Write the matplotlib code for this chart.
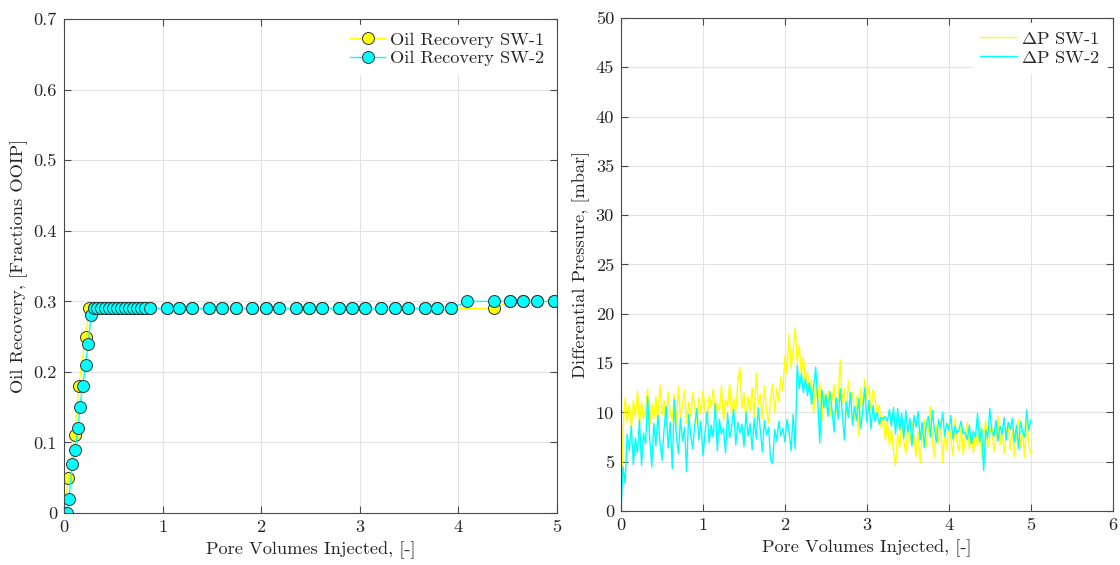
import numpy as np
import matplotlib
matplotlib.use("Agg")
import matplotlib.pyplot as plt

plt.rcParams['font.family'] = ['cmr10', 'DejaVu Serif']
plt.rcParams['mathtext.fontset'] = 'cm'
plt.rcParams['axes.formatter.use_mathtext'] = True

# ---------------- Oil recovery data ----------------
pv_sw1 = [0.0, 0.045, 0.11, 0.15, 0.22, 0.255, 0.30, 0.34, 0.38, 0.42, 0.46, 0.50,
          0.54, 0.58, 0.62, 0.66, 0.70, 0.74, 0.78, 0.82, 0.87, 1.05, 1.17, 1.30,
          1.47, 1.60, 1.75, 1.91, 2.05, 2.18, 2.35, 2.49, 2.62, 2.79, 2.92, 3.05,
          3.22, 3.36, 3.49, 3.66, 3.79, 3.93, 4.36, 4.53, 4.66, 4.80, 4.97]
rec_sw1 = [0.0, 0.05, 0.11, 0.18, 0.25, 0.29, 0.29, 0.29, 0.29, 0.29, 0.29, 0.29,
           0.29, 0.29, 0.29, 0.29, 0.29, 0.29, 0.29, 0.29, 0.29, 0.29, 0.29, 0.29,
           0.29, 0.29, 0.29, 0.29, 0.29, 0.29, 0.29, 0.29, 0.29, 0.29, 0.29, 0.29,
           0.29, 0.29, 0.29, 0.29, 0.29, 0.29, 0.29, 0.30, 0.30, 0.30, 0.30]

pv_sw2 = [0.0, 0.035, 0.05, 0.085, 0.11, 0.145, 0.16, 0.19, 0.22, 0.245, 0.275,
          0.30, 0.34, 0.38, 0.42, 0.46, 0.50, 0.54, 0.58, 0.62, 0.66, 0.70, 0.74,
          0.78, 0.82, 0.87, 1.05, 1.17, 1.30, 1.47, 1.60, 1.75, 1.91, 2.05, 2.18,
          2.35, 2.49, 2.62, 2.79, 2.92, 3.05, 3.22, 3.36, 3.49, 3.66, 3.79, 3.93,
          4.09, 4.36, 4.53, 4.66, 4.80, 4.97]
rec_sw2 = [0.0, 0.0, 0.02, 0.07, 0.09, 0.12, 0.15, 0.18, 0.21, 0.24, 0.28,
           0.29, 0.29, 0.29, 0.29, 0.29, 0.29, 0.29, 0.29, 0.29, 0.29, 0.29, 0.29,
           0.29, 0.29, 0.29, 0.29, 0.29, 0.29, 0.29, 0.29, 0.29, 0.29, 0.29, 0.29,
           0.29, 0.29, 0.29, 0.29, 0.29, 0.29, 0.29, 0.29, 0.29, 0.29, 0.29, 0.29,
           0.30, 0.30, 0.30, 0.30, 0.30, 0.30]

# ---------------- Differential pressure data ----------------
pv_step = 0.025
dp_sw1 = [0.5, 8.2, 11.5, 9.0, 10.8, 8.4, 11.2, 9.6, 12.2, 8.8,
          11.0, 9.4, 10.2, 12.4, 8.6, 10.9, 9.3, 11.6, 8.9, 12.8,
          9.8, 11.2, 8.5, 12.1, 10.0, 9.2, 11.8, 8.7, 12.6, 9.5,
          10.7, 12.3, 8.9, 11.1, 9.6, 12.0, 10.3, 8.8, 11.5, 9.9,
          12.2, 10.1, 8.9, 11.7, 10.5, 12.4, 9.4, 11.0, 10.2, 12.7,
          9.1, 11.3, 10.6, 12.9, 9.8, 11.4, 10.0, 13.1, 14.6, 10.4,
          12.0, 9.2, 11.6, 10.1, 12.5, 9.5, 14.0, 10.8, 11.9, 9.3,
          12.7, 10.2, 8.9, 11.4, 12.9, 10.0, 12.4, 11.1, 13.6, 12.2,
          15.8, 13.9, 17.9, 14.5, 16.2, 18.6, 15.1, 16.8, 13.8, 15.6,
          12.9, 14.1, 11.8, 13.3, 9.9, 12.7, 11.2, 13.0, 9.1, 11.9,
          10.4, 12.2, 9.6, 11.3, 12.8, 10.0, 11.7, 15.3, 10.9, 12.4,
          9.8, 13.2, 11.0, 12.1, 9.4, 11.6, 7.6, 12.5, 10.7, 13.4,
          11.3, 12.6, 10.2, 12.3, 11.6, 9.5, 10.8, 8.4, 9.7, 7.2,
          9.1, 6.6, 8.3, 5.9, 4.6, 7.8, 6.4, 9.2, 7.1, 5.8,
          8.5, 6.9, 9.0, 7.4, 5.5, 8.1, 4.8, 7.7, 9.3, 6.5,
          8.2, 10.6, 7.0, 5.4, 8.7, 6.8, 9.1, 4.9, 7.9, 6.2,
          8.8, 7.3, 5.6, 9.4, 7.0, 6.1, 8.6, 5.7, 7.5, 9.0,
          6.3, 8.0, 5.9, 7.8, 6.6, 8.9, 5.3, 7.6, 9.2, 6.4,
          7.9, 8.6, 6.0, 7.4, 9.6, 6.7, 8.3, 5.8, 7.7, 9.0,
          6.2, 8.4, 5.5, 7.9, 9.3, 6.5, 8.1, 5.4, 9.5, 6.9,
          5.8]
dp_sw2 = [0.0, 4.5, 2.8, 7.8, 6.2, 8.6, 4.7, 7.4, 5.9, 9.2,
          4.6, 7.9, 6.8, 11.6, 7.3, 4.5, 8.9, 6.6, 9.7, 7.0,
          5.1, 8.3, 10.6, 6.4, 9.0, 4.3, 11.3, 7.6, 5.8, 9.4,
          7.1, 8.5, 4.0, 9.8, 7.7, 6.3, 8.8, 10.4, 7.2, 9.1,
          5.6, 8.0, 10.1, 6.9, 8.7, 7.5, 10.9, 6.1, 9.3, 7.8,
          8.4, 5.9, 9.9, 7.4, 8.6, 10.3, 6.7, 9.0, 7.9, 8.8,
          6.5, 10.0, 7.6, 8.9, 6.2, 9.4, 7.3, 10.5, 8.1, 6.0,
          9.2, 7.7, 8.5, 5.2, 4.8, 8.3, 7.1, 9.1, 7.6, 8.4,
          7.0, 9.3, 8.1, 6.1, 9.8, 6.3, 14.8, 12.4, 13.9, 12.0,
          13.4, 11.7, 13.0, 10.8, 12.6, 14.6, 11.2, 6.9, 12.3, 10.5,
          11.8, 9.6, 12.1, 10.2, 8.0, 11.5, 9.3, 12.4, 10.0, 7.2,
          11.1, 9.5, 12.0, 8.7, 10.6, 9.2, 11.4, 8.4, 10.3, 12.5,
          9.0, 11.2, 8.3, 10.7, 9.1, 10.0, 8.8, 9.5, 9.3, 9.6,
          9.1, 10.3, 8.6, 10.5, 7.8, 10.4, 8.2, 9.9, 7.4, 10.2,
          8.0, 9.4, 6.6, 9.7, 8.5, 10.1, 7.2, 9.0, 6.4, 8.8,
          9.6, 7.5, 10.2, 8.1, 7.0, 9.3, 8.4, 10.0, 7.6, 8.9,
          8.2, 9.7, 7.3, 8.6, 7.9, 8.3, 9.1, 7.8, 8.0, 7.2,
          8.7, 6.8, 8.1, 7.5, 9.9, 7.0, 8.4, 4.1, 8.2, 7.4,
          10.4, 8.0, 7.6, 9.2, 7.1, 8.6, 7.8, 9.5, 7.2, 9.0,
          8.3, 9.4, 7.0, 8.7, 6.3, 9.1, 8.0, 7.5, 10.3, 8.2,
          9.2]
pv_dp = np.arange(len(dp_sw1)) * pv_step

# ---------------- Tick labels ----------------
rec_xticks = [0, 1, 2, 3, 4, 5]
rec_yticks = [0, 0.1, 0.2, 0.3, 0.4, 0.5, 0.6, 0.7]
rec_yticklabels = ['0', '0.1', '0.2', '0.3', '0.4', '0.5', '0.6', '0.7']
dp_xticks = [0, 1, 2, 3, 4, 5, 6]
dp_yticks = [0, 5, 10, 15, 20, 25, 30, 35, 40, 45, 50]

YELLOW = '#ffff00'
CYAN = '#00ffff'
EDGE = '#333333'
AXC = '#4a4a4a'
FS = 13.2

fig = plt.figure(figsize=(11.2, 5.65), dpi=100)
ax1 = fig.add_axes([0.0571, 0.092, 0.440, 0.874])
ax2 = fig.add_axes([0.5545, 0.0956, 0.439, 0.8726])


def style(ax):
    for s in ax.spines.values():
        s.set_color(AXC)
        s.set_linewidth(0.8)
    ax.tick_params(direction='in', top=True, right=True, length=5,
                   width=0.8, color=AXC, labelsize=FS, labelcolor='#262626', pad=5)
    ax.grid(True, color='#e3e3e3', linewidth=0.8)
    ax.set_axisbelow(True)


# Left panel
ax1.plot(pv_sw1, rec_sw1, '-o', color=YELLOW, lw=1.0, ms=8.6,
         mfc=YELLOW, mec=EDGE, mew=0.7, label='Oil Recovery SW-1')
ax1.plot(pv_sw2, rec_sw2, '-o', color=CYAN, lw=1.0, ms=8.6,
         mfc=CYAN, mec=EDGE, mew=0.7, label='Oil Recovery SW-2')
ax1.set_xlim(0, 5)
ax1.set_ylim(0, 0.7)
ax1.set_xticks(rec_xticks)
ax1.set_xticklabels([str(t) for t in rec_xticks])
ax1.set_yticks(rec_yticks)
ax1.set_yticklabels(rec_yticklabels)
style(ax1)
ax1.set_xlabel('Pore Volumes Injected, [-]', fontsize=FS, color='#262626')
ax1.set_ylabel('Oil Recovery, [Fractions OOIP]', fontsize=FS, color='#262626')
leg1 = ax1.legend(loc='upper right', fontsize=FS, frameon=True, framealpha=1,
                  edgecolor='white', fancybox=False, handlelength=1.9,
                  handletextpad=0.25, borderaxespad=0.3, labelspacing=0.15)
for t in leg1.get_texts():
    t.set_color('#262626')

# Right panel
ax2.plot(pv_dp, dp_sw1, '-', color=YELLOW, lw=1.0, label=r'$\Delta$P SW-1')
ax2.plot(pv_dp, dp_sw2, '-', color=CYAN, lw=1.0, label=r'$\Delta$P SW-2')
ax2.set_xlim(0, 6)
ax2.set_ylim(0, 50)
ax2.set_xticks(dp_xticks)
ax2.set_xticklabels([str(t) for t in dp_xticks])
ax2.set_yticks(dp_yticks)
ax2.set_yticklabels([str(t) for t in dp_yticks])
style(ax2)
ax2.set_xlabel('Pore Volumes Injected, [-]', fontsize=FS, color='#262626')
ax2.set_ylabel('Differential Pressure, [mbar]', fontsize=FS, color='#262626')
leg2 = ax2.legend(loc='upper right', fontsize=FS, frameon=True, framealpha=1,
                  edgecolor='white', fancybox=False, handlelength=2.0,
                  handletextpad=0.2, borderaxespad=0.3, labelspacing=0.15)
for t in leg2.get_texts():
    t.set_color('#262626')

fig.savefig('out.png', dpi=100)
